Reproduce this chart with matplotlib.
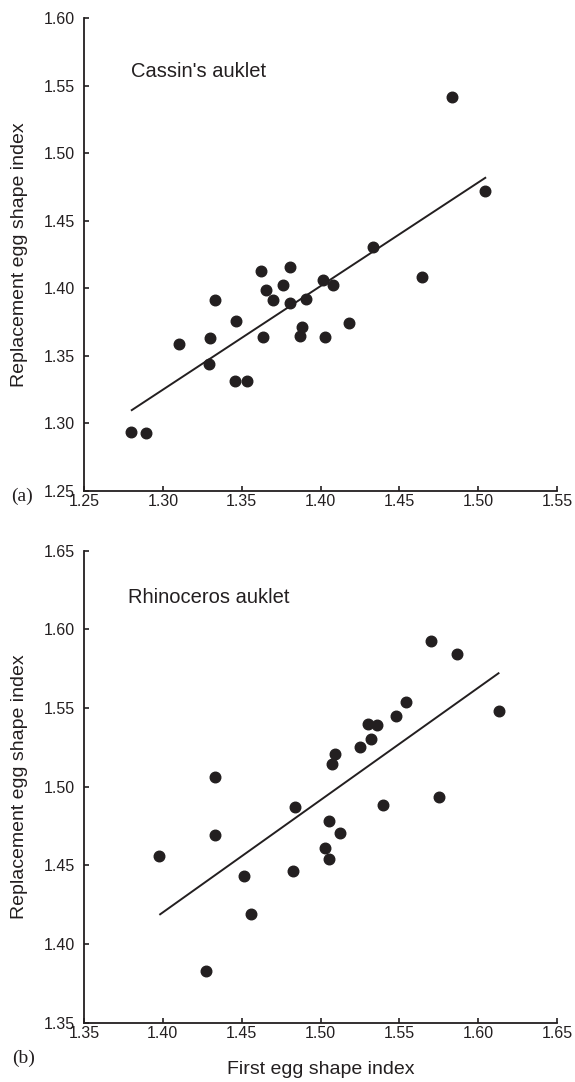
import matplotlib
matplotlib.use("Agg")
import matplotlib.pyplot as plt
import numpy as np

# ---- Data: (a) Cassin's auklet ----
cassin_first = [1.4833, 1.5045, 1.4330, 1.4645, 1.3624, 1.3805, 1.4015, 1.4080,
                1.3759, 1.3654, 1.3332, 1.3700, 1.3805, 1.3910, 1.3465, 1.3885,
                1.4180, 1.3104, 1.3300, 1.3638, 1.3870, 1.4029, 1.3293, 1.3458,
                1.3533, 1.2798, 1.2896]
cassin_repl = [1.5419, 1.4719, 1.4308, 1.4086, 1.4128, 1.4160, 1.4060, 1.4027,
               1.4027, 1.3985, 1.3916, 1.3916, 1.3887, 1.3921, 1.3761, 1.3715,
               1.3739, 1.3587, 1.3629, 1.3641, 1.3646, 1.3636, 1.3442, 1.3316,
               1.3316, 1.2938, 1.2925]
cassin_fit_x = [1.2803, 1.5045]
cassin_fit_y = [1.3097, 1.4818]

# ---- Data: (b) Rhinoceros auklet ----
rhino_first = [1.5703, 1.5866, 1.6129, 1.5540, 1.5479, 1.5304, 1.5358, 1.5318,
               1.5248, 1.5094, 1.5076, 1.4332, 1.5754, 1.5395, 1.4836, 1.4328,
               1.3978, 1.5052, 1.5122, 1.5029, 1.5052, 1.4514, 1.4824, 1.4561,
               1.4274]
rhino_repl = [1.5924, 1.5844, 1.5484, 1.5539, 1.5450, 1.5398, 1.5391, 1.5302,
              1.5254, 1.5207, 1.5146, 1.5063, 1.4934, 1.4881, 1.4871, 1.4694,
              1.4559, 1.4785, 1.4703, 1.4610, 1.4542, 1.4435, 1.4464, 1.4194,
              1.3828]
rhino_fit_x = [1.3983, 1.6129]
rhino_fit_y = [1.4189, 1.5721]

top_xticks = [1.25, 1.30, 1.35, 1.40, 1.45, 1.50, 1.55]
top_yticks = [1.25, 1.30, 1.35, 1.40, 1.45, 1.50, 1.55, 1.60]
bot_xticks = [1.35, 1.40, 1.45, 1.50, 1.55, 1.60, 1.65]
bot_yticks = [1.35, 1.40, 1.45, 1.50, 1.55, 1.60, 1.65]

ylabel = "Replacement egg shape index"
xlabel = "First egg shape index"

INK = "#231f20"
plt.rcParams['font.family'] = ['Liberation Sans', 'DejaVu Sans']

W, H = 575, 1082
fig = plt.figure(figsize=(W / 100, H / 100), dpi=100)

def px_axes(left, top, right, bottom):
    return fig.add_axes([left / W, 1 - bottom / H, (right - left) / W, (bottom - top) / H])

ax1 = px_axes(84, 18.3, 557, 490.7)
ax2 = px_axes(84, 550.7, 557, 1022.7)

def style(ax, xt, yt):
    for s in ['top', 'right']:
        ax.spines[s].set_visible(False)
    for s in ['left', 'bottom']:
        ax.spines[s].set_linewidth(1.3)
        ax.spines[s].set_color(INK)
    ax.set_xticks(xt)
    ax.set_yticks(yt)
    ax.set_xticklabels([f"{v:.2f}" for v in xt])
    ax.set_yticklabels([f"{v:.2f}" for v in yt])
    ax.set_xlim(xt[0], xt[-1])
    ax.set_ylim(yt[0], yt[-1])
    ax.tick_params(axis='both', direction='in', length=3.5, width=1.2,
                   color=INK, labelcolor=INK, labelsize=11.5)
    ax.tick_params(axis='x', pad=2.5)
    ax.tick_params(axis='y', pad=6.5)

style(ax1, top_xticks, top_yticks)
style(ax2, bot_xticks, bot_yticks)

ax1.plot(cassin_fit_x, cassin_fit_y, color=INK, lw=1.4, clip_on=False)
ax1.plot(cassin_first, cassin_repl, 'o', color=INK, ms=7.6, clip_on=False)
ax2.plot(rhino_fit_x, rhino_fit_y, color=INK, lw=1.4, clip_on=False)
ax2.plot(rhino_first, rhino_repl, 'o', color=INK, ms=7.6, clip_on=False)

def px_text(x, y, s, **kw):
    fig.text(x / W, 1 - y / H, s, color=INK, **kw)

px_text(131, 71.7, "Cassin's auklet", fontsize=14.5, ha='left', va='center')
px_text(128.3, 597.7, "Rhinoceros auklet", fontsize=14.5, ha='left', va='center')

px_text(20, 254.5, ylabel, rotation=90, fontsize=14, ha='center', va='center')
px_text(20, 786.7, ylabel, rotation=90, fontsize=14, ha='center', va='center')
px_text(320.5, 1070, xlabel, fontsize=14, ha='center', va='center')

px_text(22, 496, "(a)", fontsize=14, ha='center', va='center',
        family=['Liberation Serif', 'DejaVu Serif'])
px_text(24, 1058, "(b)", fontsize=14, ha='center', va='center',
        family=['Liberation Serif', 'DejaVu Serif'])

fig.savefig("out.png", dpi=100, facecolor='white')
